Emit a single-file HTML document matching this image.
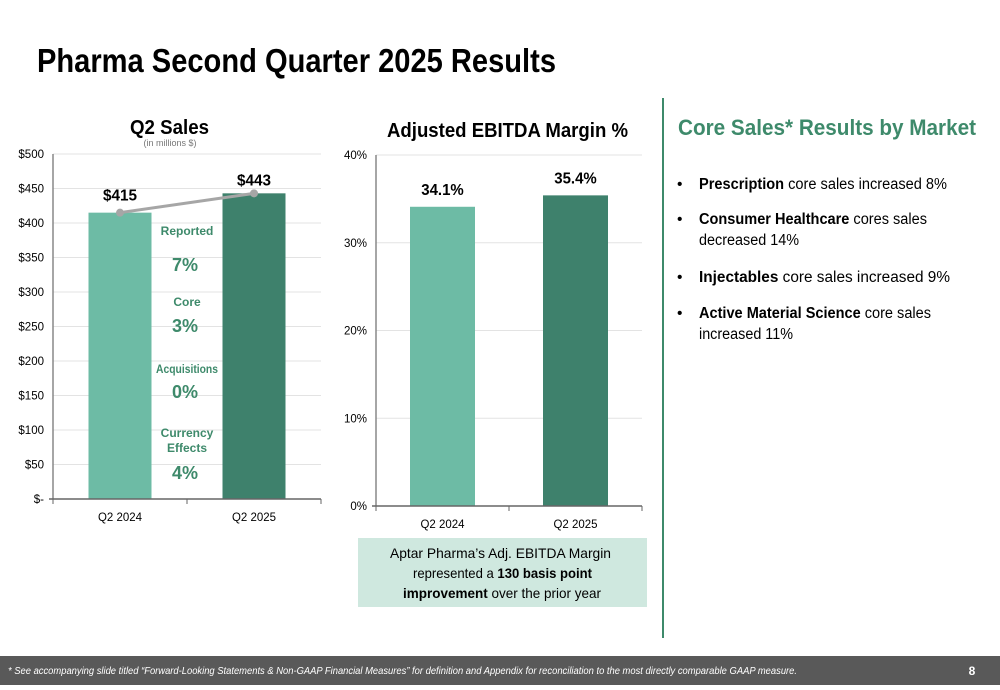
<!DOCTYPE html>
<html><head><meta charset="utf-8"><style>
body{margin:0;width:1000px;height:685px;overflow:hidden;background:#fff;font-family:"Liberation Sans",sans-serif;}
svg text{font-family:"Liberation Sans",sans-serif;}
</style></head><body>
<svg width="1000" height="685" viewBox="0 0 1000 685">
<text x="37" y="72" font-size="33" font-weight="bold" fill="#000" textLength="519" lengthAdjust="spacingAndGlyphs">Pharma Second Quarter 2025 Results</text>
<g id="c1">
<text x="130" y="134" font-size="20" font-weight="bold" textLength="79" lengthAdjust="spacingAndGlyphs">Q2 Sales</text>
<text x="170" y="146" font-size="9" fill="#777" text-anchor="middle">(in millions $)</text>
</g>
<g id="c2">
<text x="387" y="137" font-size="20" font-weight="bold" textLength="241" lengthAdjust="spacingAndGlyphs">Adjusted EBITDA Margin %</text>
</g>
<g fill="#3e8a6b" font-weight="bold" text-anchor="middle">
<text x="187" y="235" font-size="12">Reported</text>
<text x="185" y="271" font-size="18">7%</text>
<text x="187" y="306" font-size="12">Core</text>
<text x="185" y="332" font-size="18">3%</text>
<text x="187" y="373" font-size="12" textLength="62" lengthAdjust="spacingAndGlyphs">Acquisitions</text>
<text x="185" y="398" font-size="18">0%</text>
<text x="187" y="437" font-size="12">Currency</text>
<text x="187" y="452" font-size="12">Effects</text>
<text x="185" y="479" font-size="18">4%</text>
</g>
<rect x="358" y="538" width="289" height="69" fill="#cfe8df"/>
<g font-size="14" fill="#000">
<text x="390" y="558" textLength="221" lengthAdjust="spacingAndGlyphs">Aptar Pharma’s Adj. EBITDA Margin</text>
<text x="413" y="578" textLength="179" lengthAdjust="spacingAndGlyphs">represented a <tspan font-weight="bold">130 basis point</tspan></text>
<text x="403" y="598" textLength="198" lengthAdjust="spacingAndGlyphs"><tspan font-weight="bold">improvement</tspan> over the prior year</text>
</g>
<rect x="662" y="98" width="2" height="540" fill="#3e8a6b"/>
<text x="678" y="135" font-size="22" font-weight="bold" fill="#3e8a6b" textLength="298" lengthAdjust="spacingAndGlyphs">Core Sales* Results by Market</text>
<g font-size="15.5" fill="#000">
<text x="677" y="189">•</text><text x="699" y="189" textLength="248" lengthAdjust="spacingAndGlyphs"><tspan font-weight="bold">Prescription</tspan> core sales increased 8%</text>
<text x="677" y="224">•</text><text x="699" y="224" textLength="228" lengthAdjust="spacingAndGlyphs"><tspan font-weight="bold">Consumer Healthcare</tspan> cores sales</text>
<text x="699" y="245" textLength="100" lengthAdjust="spacingAndGlyphs">decreased 14%</text>
<text x="677" y="282">•</text><text x="699" y="282" textLength="251" lengthAdjust="spacingAndGlyphs"><tspan font-weight="bold">Injectables</tspan> core sales increased 9%</text>
<text x="677" y="318">•</text><text x="699" y="318" textLength="232" lengthAdjust="spacingAndGlyphs"><tspan font-weight="bold">Active Material Science</tspan> core sales</text>
<text x="699" y="339" textLength="94" lengthAdjust="spacingAndGlyphs">increased 11%</text>
</g>
<rect x="0" y="656" width="1000" height="29" fill="#595959"/>
<text x="8" y="674" font-size="10" font-style="italic" fill="#fff" textLength="789" lengthAdjust="spacingAndGlyphs">* See accompanying slide titled “Forward-Looking Statements &amp; Non-GAAP Financial Measures” for definition and Appendix for reconciliation to the most directly comparable GAAP measure.</text>
<text x="972" y="675" font-size="12" font-weight="bold" fill="#fff" text-anchor="middle">8</text>
</svg>
<script>
const cats=["Q2 2024","Q2 2025"];
const sales=[415,443];
const salesLabels=["$415","$443"];
const salesTicks=[0,50,100,150,200,250,300,350,400,450,500];
const salesTickLabels=["$-","$50","$100","$150","$200","$250","$300","$350","$400","$450","$500"];
const margin=[34.1,35.4];
const marginLabels=["34.1%","35.4%"];
const marginTicks=[0,10,20,30,40];
const marginTickLabels=["0%","10%","20%","30%","40%"];
const colors=["#6dbba5","#3e816c"];
const NS="http://www.w3.org/2000/svg";
function mk(p,t,a,txt){const e=document.createElementNS(NS,t);for(const k in a)e.setAttribute(k,a[k]);if(txt!==undefined)e.textContent=txt;p.appendChild(e);return e;}
function chart(g,o){
 const y=v=>o.y0-(v-o.min)/(o.max-o.min)*(o.y0-o.y1);
 const bw=(o.x1-o.x0)/cats.length;
 const x=i=>o.x0+bw*(i+0.5);
 o.ticks.forEach((t,i)=>{
  const l=mk(g,'line',{x1:o.x0,x2:o.x1,y1:y(t),y2:y(t),stroke:'#e3e3e3','stroke-width':1});
  
  
  const tx=mk(g,'text',{x:o.x0-9,y:y(t)+4,'font-size':11.5,'text-anchor':'end',fill:'#000'},o.tickLabels[i]);
  
  
 });
 o.vals.forEach((v,i)=>{
  const r=mk(g,'rect',{x:x(i)-o.barW/2,y:y(v),width:o.barW,height:o.y0-y(v),fill:colors[i]});
  
  
  const t=mk(g,'text',{x:x(i),y:o.line?y(v)-(i?8:12):y(v)-12,'font-size':16,'font-weight':'bold','text-anchor':'middle',textLength:o.labels[i].length*8.5,lengthAdjust:'spacingAndGlyphs'},o.labels[i]);
  
  
  const c=mk(g,'text',{x:x(i),y:o.y0+22,'font-size':12,'text-anchor':'middle',textLength:44,lengthAdjust:'spacingAndGlyphs'},cats[i]);
  
  
 });
 const ax=mk(g,'line',{x1:o.x0,x2:o.x0,y1:o.y1,y2:o.y0,stroke:'#888','stroke-width':1.5});
 
 
 const bx=mk(g,'line',{x1:o.x0-4,x2:o.x1,y1:o.y0,y2:o.y0,stroke:'#666','stroke-width':1.5});
 
 
 for(let i=0;i<=cats.length;i++){mk(g,'line',{x1:o.x0+bw*i,x2:o.x0+bw*i,y1:o.y0,y2:o.y0+5,stroke:'#666'});}
 if(o.line){
  const pts=o.vals.map((v,i)=>x(i)+','+y(v)).join(' ');
  const pl=mk(g,'polyline',{points:pts,fill:'none',stroke:'#a6a6a6','stroke-width':3});
  
  
  o.vals.forEach((v,i)=>{const c=mk(g,'circle',{cx:x(i),cy:y(v),r:4,fill:'#a6a6a6'});
   
   });
 }
}
chart(document.getElementById('c1'),{x0:53,x1:321,y0:499,y1:154,min:0,max:500,ticks:salesTicks,tickLabels:salesTickLabels,vals:sales,labels:salesLabels,barW:63,line:true});
chart(document.getElementById('c2'),{x0:376,x1:642,y0:506,y1:155,min:0,max:40,ticks:marginTicks,tickLabels:marginTickLabels,vals:margin,labels:marginLabels,barW:65,line:false});
</script>
</body></html>
